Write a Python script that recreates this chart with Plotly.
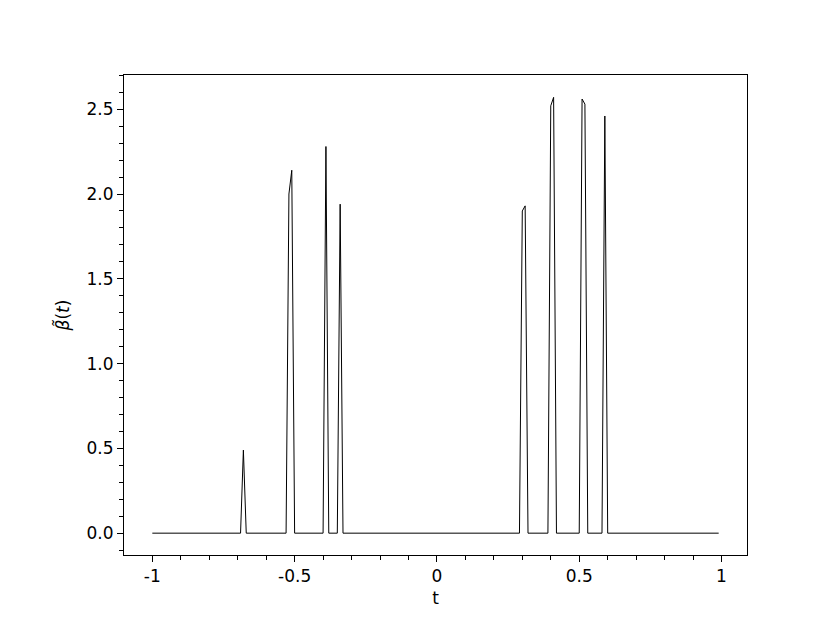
import plotly.graph_objects as go

# breakpoints of the estimated coefficient function (zero between spikes)
t = [-1.00, -0.69, -0.68, -0.67,
     -0.53, -0.52, -0.51, -0.50,
     -0.40, -0.39, -0.38,
     -0.35, -0.34, -0.33,
     0.29, 0.30, 0.31, 0.32,
     0.39, 0.40, 0.41, 0.42,
     0.50, 0.51, 0.52, 0.53,
     0.58, 0.59, 0.60,
     0.99]
beta = [0.0, 0.0, 0.49, 0.0,
        0.0, 2.00, 2.14, 0.0,
        0.0, 2.28, 0.0,
        0.0, 1.94, 0.0,
        0.0, 1.90, 1.93, 0.0,
        0.0, 2.52, 2.57, 0.0,
        0.0, 2.56, 2.53, 0.0,
        0.0, 2.46, 0.0,
        0.0]

x_ticks = [-1, -0.5, 0, 0.5, 1]
x_labels = ["-1", "-0.5", "0", "0.5", "1"]
y_ticks = [0, 0.5, 1.0, 1.5, 2.0, 2.5]
y_labels = ["0.0", "0.5", "1.0", "1.5", "2.0", "2.5"]

fig = go.Figure()
fig.add_trace(go.Scatter(
    x=t, y=beta,
    mode="lines",
    line=dict(color="black", width=1),
    showlegend=False,
))

axis_common = dict(
    showgrid=False, zeroline=False,
    showline=True, linecolor="black", linewidth=1, mirror=True,
    ticks="outside", ticklen=6, tickwidth=1, tickcolor="black",
    tickfont=dict(family="DejaVu Sans", size=17, color="black"),
)

# page body adds ~8px offset, so margins are shifted to compensate
fig.update_layout(
    width=830, height=623,
    margin=dict(l=116, r=91, t=67, b=76),
    plot_bgcolor="white", paper_bgcolor="white",
    font=dict(family="DejaVu Sans", size=17, color="black"),
    xaxis=dict(
        range=[-1.0995, 1.0895],
        tickmode="array", tickvals=x_ticks, ticktext=x_labels,
        minor=dict(tickmode="linear", tick0=0, dtick=0.1, ticks="outside",
                   ticklen=4, tickwidth=1, tickcolor="black"),
        title=dict(text="t", standoff=6, font=dict(size=17)),
        **axis_common,
    ),
    yaxis=dict(
        range=[-0.1287, 2.7017],
        tickmode="array", tickvals=y_ticks, ticktext=y_labels,
        minor=dict(tickmode="linear", tick0=0, dtick=0.1, ticks="outside",
                   ticklen=4, tickwidth=1, tickcolor="black"),
        title=dict(text="<i>β\u0303</i>(<i>t</i>)", standoff=12, font=dict(size=17)),
        **axis_common,
    ),
)

fig.write_html("out.html")
